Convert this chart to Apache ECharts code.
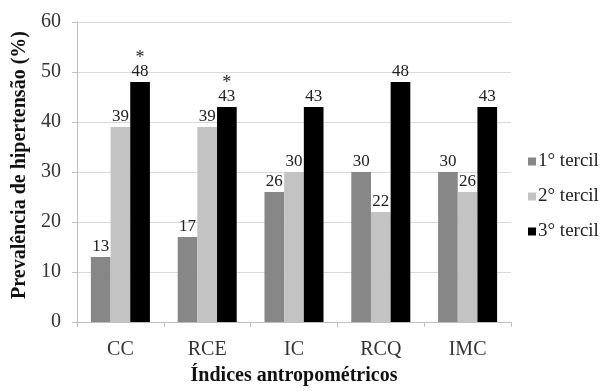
<!DOCTYPE html>
<html>
<head>
<meta charset="utf-8">
<script src="https://cdn.jsdelivr.net/npm/echarts@6/dist/echarts.min.js"></script>
<style>html,body{margin:0;padding:0;background:#fff}#c{width:600px;height:391px}</style>
</head>
<body>
<div id="c"></div>
<script>
const categories = ['CC', 'RCE', 'IC', 'RCQ', 'IMC'];
const seriesNames = ['1° tercil', '2° tercil', '3° tercil'];
const tercil1 = [13, 17, 26, 30, 30];
const tercil2 = [39, 39, 30, 22, 26];
const tercil3 = [48, 43, 43, 48, 43];
const significance3 = ['*', '*', '', '', ''];
const yTicks = [0, 10, 20, 30, 40, 50, 60];

const FONT = '"Liberation Serif", "Times New Roman", serif';
const colors = ['#878787', '#c3c3c3', '#000000'];

function plainLabel() {
  return { show: true, position: 'top', distance: 2, fontFamily: FONT, fontSize: 17, color: '#222' };
}

const chart = echarts.init(document.getElementById('c'), null, { renderer: 'canvas' });
chart.setOption({
  animation: false,
  backgroundColor: '#fff',
  grid: { left: 77, right: 89, top: 22, bottom: 64, containLabel: false },
  legend: {
    orient: 'vertical', left: 523, top: 147,
    itemWidth: 8, itemHeight: 8, itemGap: 16,
    icon: 'rect',
    textStyle: { fontFamily: FONT, fontSize: 19, color: '#222', padding: [0, 0, 0, -3] },
    data: seriesNames
  },
  xAxis: {
    type: 'category', data: categories,
    axisLine: { show: true, lineStyle: { color: '#bfbfbf' } },
    axisTick: { show: true, length: 5, lineStyle: { color: '#bfbfbf' } },
    axisLabel: { fontFamily: FONT, fontSize: 20, color: '#333', margin: 18 },
    name: 'Índices antropométricos', nameLocation: 'middle', nameGap: 44,
    nameTextStyle: { fontFamily: FONT, fontSize: 20, fontWeight: 'bold', color: '#111' }
  },
  yAxis: {
    type: 'value', min: yTicks[0], max: yTicks[yTicks.length - 1], interval: 10,
    axisLine: { show: true, lineStyle: { color: '#bfbfbf' } },
    axisTick: { show: true, length: 5, lineStyle: { color: '#bfbfbf' } },
    splitLine: { show: true, lineStyle: { color: '#d9d9d9' } },
    axisLabel: { fontFamily: FONT, fontSize: 20, color: '#333', margin: 16 },
    name: 'Prevalência de hipertensão (%)', nameLocation: 'middle', nameGap: 45, nameRotate: 90,
    nameTextStyle: { fontFamily: FONT, fontSize: 20, fontWeight: 'bold', color: '#111', padding: [0, 0, 0, 14] }
  },
  series: [
    { name: seriesNames[0], type: 'bar', data: tercil1, barGap: '0%', barCategoryGap: '32%',
      itemStyle: { color: colors[0] }, label: plainLabel() },
    { name: seriesNames[1], type: 'bar', data: tercil2, barGap: '0%', barCategoryGap: '32%',
      itemStyle: { color: colors[1] }, label: plainLabel() },
    { name: seriesNames[2], type: 'bar', data: tercil3, barGap: '0%', barCategoryGap: '32%',
      itemStyle: { color: colors[2] },
      label: Object.assign(plainLabel(), {
        formatter: function (p) {
          const s = significance3[p.dataIndex];
          return s ? '{s|' + s + '}\n' + p.value : '' + p.value;
        },
        lineHeight: 17,
        rich: { s: { fontFamily: FONT, fontSize: 18, color: '#222', lineHeight: 10 } }
      }) }
  ]
});
</script>
</body>
</html>
